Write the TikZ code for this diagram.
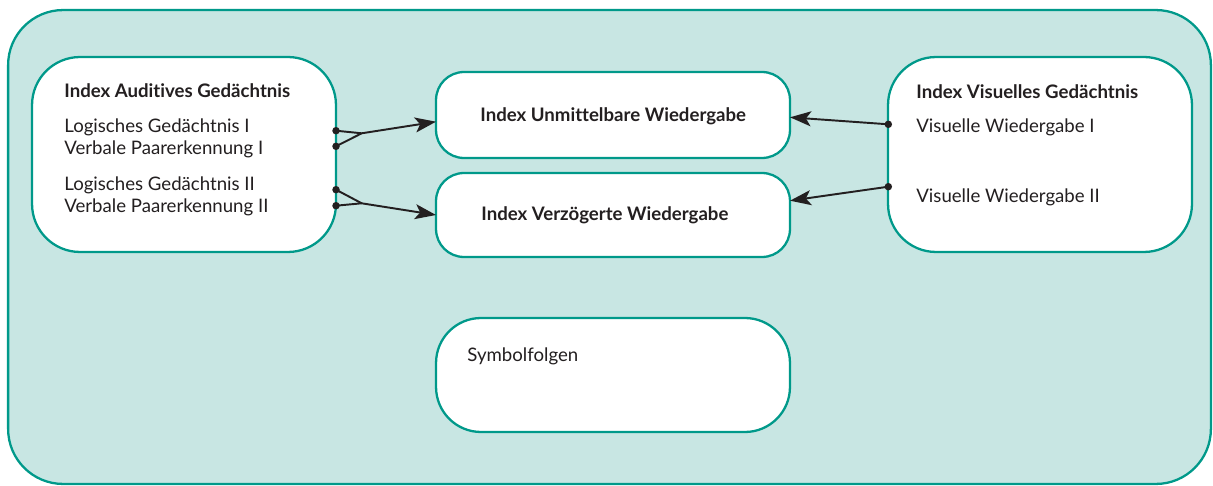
\documentclass[tikz,border=0pt]{standalone}
\usepackage{fontspec}
\setmainfont{Lato}[Ligatures={NoCommon}]
\usetikzlibrary{arrows.meta, positioning}
\definecolor{tealline}{HTML}{00998A}
\definecolor{tealfill}{HTML}{C8E6E3}
\definecolor{ink}{HTML}{231F20}
\tikzset{
    frame/.style={rectangle, draw=tealline, line width=1.3pt, fill=tealfill, inner sep=0pt},
    panel/.style={rectangle, draw=tealline, line width=1.3pt, fill=white, inner sep=0pt},
    head/.style={anchor=west, inner sep=0pt, text=ink, font=\fontsize{10.6}{12}\selectfont\bfseries},
    item/.style={anchor=west, inner sep=0pt, text=ink, align=left, font=\fontsize{10.6}{12.5}\selectfont},
    link/.style={draw=ink, line width=1.1pt},
    arr/.style={link, -{Stealth[length=4.2mm, width=3mm, inset=1mm]}},
    pin/.style={circle, fill=ink, inner sep=0pt, minimum size=1.5mm},
}

\begin{document}
\begin{tikzpicture}[x=0.02cm, y=-0.02cm]
    \path[use as bounding box] (0,0) rectangle (1213,486);
    \node[frame, rounded corners=1.1cm, minimum width=24.06cm, minimum height=9.48cm] (bg) at (609.5,247) {};

    % memory groups
    \node[panel, rounded corners=0.96cm, minimum width=6.08cm, minimum height=3.9cm] (aud) at (184,154.5) {};
    \node[panel, rounded corners=0.96cm, minimum width=6.08cm, minimum height=3.9cm] (vis) at (1040,154.5) {};

    % indices in the middle
    \node[panel, rounded corners=0.56cm, minimum width=7.08cm, minimum height=1.72cm] (imm) at (613,115) {};
    \node[panel, rounded corners=0.56cm, minimum width=7.08cm, minimum height=1.68cm] (del) at (613,215) {};
    \node[panel, rounded corners=0.9cm, minimum width=7.08cm, minimum height=2.28cm] (sym) at (613,375) {};

    \node[head] (audh) at (64,91) {Index Auditives Gedächtnis};
    \node[item] (aud1) at (64,138) {Logisches Gedächtnis I\\Verbale Paarerkennung I};
    \node[item] (aud2) at (64,196) {Logisches Gedächtnis II\\Verbale Paarerkennung II};

    \node[head] (vish) at (916,92) {Index Visuelles Gedächtnis};
    \node[item] (vis1) at (916,127) {Visuelle Wiedergabe I};
    \node[item] (vis2) at (916,197) {Visuelle Wiedergabe II};

    \node[head] (immh) at (480,116) {Index Unmittelbare Wiedergabe};
    \node[head] (delh) at (481,215) {Index Verzögerte Wiedergabe};
    \node[item] (symh) at (467,356) {Symbolfolgen};

    % connectors
    \node[pin] (a1) at (336,130.7) {};
    \node[pin] (a2) at (336,146.3) {};
    \node[pin] (a3) at (336,189.7) {};
    \node[pin] (a4) at (336,205.7) {};
    \node[pin] (v1) at (888.3,124.3) {};
    \node[pin] (v2) at (888.3,186.7) {};
    \coordinate (j1) at (361.7,133.3);
    \coordinate (j2) at (361.7,203.3);
    \coordinate (t1) at (436,121.7);
    \coordinate (t2) at (436,215);
    \coordinate (t3) at (790,117.3);
    \coordinate (t4) at (790,200.7);

    \draw[link] (a2.center) -- (j1);
    \draw[arr] (a1.center) -- (j1) -- (t1);
    \draw[link] (a3.center) -- (j2);
    \draw[arr] (a4.center) -- (j2) -- (t2);
    \draw[arr] (v1.center) -- (t3);
    \draw[arr] (v2.center) -- (t4);
\end{tikzpicture}
\end{document}
